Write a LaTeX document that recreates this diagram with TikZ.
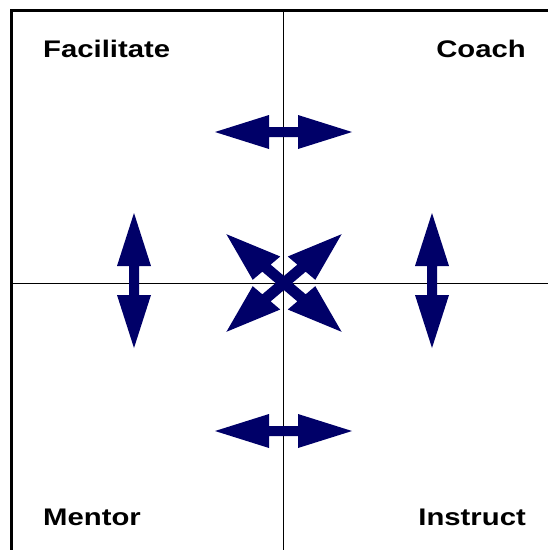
\documentclass[tikz,border=0pt]{standalone}
\usepackage{fontspec}
\setmainfont{Liberation Sans}
\usepackage{tikz}
\usetikzlibrary{positioning}

\definecolor{arrowblue}{RGB}{0,0,104}

\tikzset{
	frame/.style={line width=3.5pt},
	axis/.style={line width=1.6pt},
	arrowfill/.style={fill=arrowblue},
	quadrant/.style={inner sep=0pt, font=\fontsize{24}{28}\selectfont\bfseries}
}

% double headed arrow: half length, head length, head half width, shaft half width
\newcommand{\twoheads}[4]{%
	\fill[arrowfill] (-#1,0) -- ({-#1+#2},#3) -- ({-#1+#2},#4) -- ({#1-#2},#4) -- ({#1-#2},#3)
		-- (#1,0) -- ({#1-#2},-#3) -- ({#1-#2},-#4) -- ({-#1+#2},-#4) -- ({-#1+#2},-#3) -- cycle;}

\begin{document}
\begin{tikzpicture}[x=1pt,y=-1pt]
		\useasboundingbox (0,0) rectangle (548,550);
		% frame and axes
		\draw[frame] (11.5,550) -- (11.5,10.5) -- (548,10.5);
		\draw[axis] (283.5,10.5) -- (283.5,550);
		\draw[axis] (11.5,283.5) -- (548,283.5);
		% quadrant names
		\path 	(43,57)		node[quadrant, anchor=base west] (fac) 	{\scalebox{1.22}[1]{Facilitate}}
			(526,57)	node[quadrant, anchor=base east] (coach) 	{\scalebox{1.22}[1]{Coach}}
			(43,525)	node[quadrant, anchor=base west] (ment) 	{\scalebox{1.22}[1]{Mentor}}
			(526,525)	node[quadrant, anchor=base east] (instr) 	{\scalebox{1.22}[1]{Instruct}};
		% horizontal arrows
		\begin{scope}[shift={(283.5,132)}]
			\twoheads{68.5}{54}{17}{5}
		\end{scope}
		\begin{scope}[shift={(283.5,431)}]
			\twoheads{68.5}{54}{17}{5}
		\end{scope}
		% vertical arrows
		\begin{scope}[shift={(134,280.5)}, rotate=90]
			\twoheads{67.5}{53}{17}{5}
		\end{scope}
		\begin{scope}[shift={(432,280.5)}, rotate=90]
			\twoheads{67.5}{53}{17}{5}
		\end{scope}
		% crossed arrows in the middle
		\begin{scope}[shift={(284,283)}, xscale=1.18, rotate=45]
			\twoheads{69}{48}{16.5}{5}
		\end{scope}
		\begin{scope}[shift={(284,283)}, xscale=1.18, rotate=-45]
			\twoheads{69}{48}{16.5}{5}
		\end{scope}
	\end{tikzpicture}
\end{document}
